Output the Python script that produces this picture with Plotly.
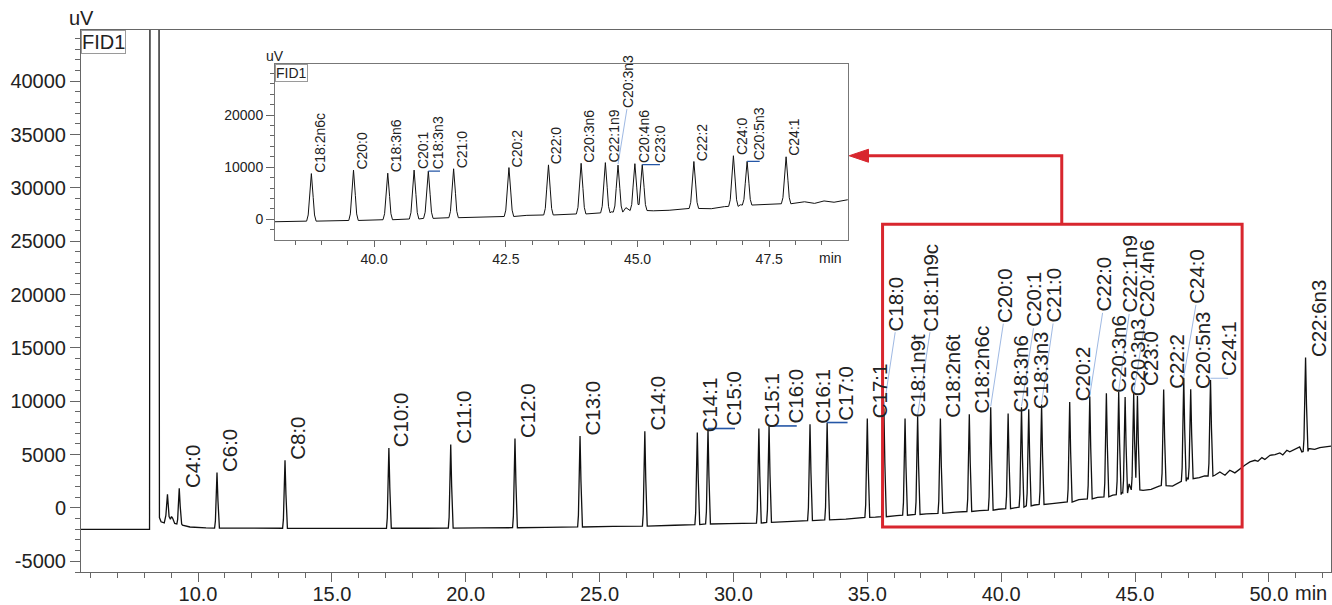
import plotly.graph_objects as go

# ---------------- data ----------------
peak_names = ["C4:0", "C6:0", "C8:0", "C10:0", "C11:0", "C12:0", "C13:0", "C14:0",
              "C14:1", "C15:0", "C15:1", "C16:0", "C16:1", "C17:0", "C17:1", "C18:0",
              "C18:1n9t", "C18:1n9c", "C18:2n6t", "C18:2n6c", "C20:0", "C18:3n6", "C20:1",
              "C18:3n3", "C21:0", "C20:2", "C22:0", "C20:3n6", "C22:1n9", "C20:3n3",
              "C20:4n6", "C23:0", "C22:2", "C24:0", "C20:5n3", "C24:1", "C22:6n3"]
peak_times = [9.30, 10.71, 13.25, 17.13, 19.44, 21.84, 24.27, 26.69,
              28.65, 29.05, 30.95, 31.33, 32.86, 33.50, 35.00, 35.62,
              36.41, 36.88, 37.73, 38.81, 39.61, 40.26, 40.76,
              41.03, 41.51, 42.56, 43.31, 43.93, 44.39, 44.63,
              44.95, 45.09, 46.07, 46.82, 47.08, 47.82, 51.37]
peak_heights = [1850, 3320, 4470, 5630, 5950, 6510, 6750, 7200,
                7070, 7450, 7450, 7690, 7850, 8010, 8390, 9350,
                8390, 8600, 8390, 8780, 9440, 8860, 9450,
                9250, 9700, 9930, 10450, 10750, 10880, 10400,
                10680, 10500, 11100, 12200, 11120, 12000, 14100]
peak_bases = [-1500, -1880, -1900, -1900, -1890, -1850, -1780, -1700,
              -1560, -1500, -1420, -1350, -1180, -1120, -880, -820,
              -680, -610, -500, -330, -200, -60, 80,
              200, 330, 560, 850, 1050, 1250, 1400,
              1700, 1700, 2100, 2500, 2750, 3000, 5300]

# baseline / solvent / noise points between the labelled peaks
baseline_times = [5.63, 7.0, 8.19, 8.21, 8.54, 8.56, 8.62, 8.74, 8.80, 8.86, 8.92, 8.97,
                  9.01, 9.05, 9.13, 9.42, 9.70, 10.3, 11.5, 14.5, 16.0, 18.5, 20.5, 23.0,
                  25.5, 27.8, 29.8, 30.4, 32.2, 34.2, 35.3, 36.1, 37.2, 38.3, 39.2, 39.9,
                  40.5, 41.25, 41.9, 42.2, 42.9, 43.6, 44.17, 44.5, 44.78, 45.3, 45.6, 45.9,
                  46.4, 46.65, 46.95, 47.4, 47.6, 47.98, 48.17, 48.36, 48.54, 48.73, 48.92,
                  49.10, 49.29, 49.48, 49.59, 49.74, 49.85, 50.04, 50.23, 50.41, 50.52,
                  50.67, 50.78, 51.04, 51.15, 51.23, 51.49, 51.71, 51.90, 52.08, 52.32]
baseline_values = [-2000, -2010, -2000, 60000, 60000, -900, -1300, -1400, -700, 1290, -800, -1050,
                   -800, -950, -1450, -1600, -1780, -1860, -1890, -1920, -1920, -1900, -1870, -1820,
                   -1730, -1620, -1470, -1420, -1250, -1050, -860, -720, -560, -380, -240, -120,
                   20, 280, 400, 480, 780, 1000, 1200, 1450, 2250, 1650, 1750, 2050,
                   2050, 2450, 2800, 2850, 3000, 3070, 3380, 3070, 3540, 3290, 3700,
                   4000, 4320, 4470, 4380, 4720, 4540, 4940, 5000, 5160, 4970,
                   5410, 5260, 5570, 5720, 5260, 5570, 5490, 5660, 5720, 5790]

main_x_ticks = [10, 15, 20, 25, 30, 35, 40, 45, 50]
main_x_ticktext = ["10.0", "15.0", "20.0", "25.0", "30.0", "35.0", "40.0", "45.0", "50.0"]
main_y_ticks = [-5000, 0, 5000, 10000, 15000, 20000, 25000, 30000, 35000, 40000]
main_y_ticktext = ["-5000", "0", "5000", "10000", "15000", "20000", "25000", "30000", "35000", "40000"]
inset_x_ticks = [40, 42.5, 45, 47.5]
inset_x_ticktext = ["40.0", "42.5", "45.0", "47.5"]
inset_y_ticks = [0, 10000, 20000]
inset_y_ticktext = ["0", "10000", "20000"]

# highlighted window of the main chart (min, uV)
window_x = [35.57, 49.0]
window_y = [-1780, 26600]

# ---------------- styles / layout ----------------
FONT = "Liberation Sans, Arial, sans-serif"
TXT = "#222222"
AXC = "#666666"
RED = "#d8262e"
LEAD = "#9fb9e3"
DARKBLUE = "#2456a6"

SHAPE_DT = [-0.09, -0.06, -0.035, 0.0, 0.035, 0.06, 0.09]
SHAPE_FRAC = [0, 0.13, 0.5, 1, 0.5, 0.13, 0]

# label placement (pixel offsets from the apex): dx, dy, connector kind, connector length
main_default = (12.5, 1.5, None, 0)
main_layout = {
    "C15:0": (26, 3.3, "h", 27), "C16:0": (26, 3, "h", 27.7), "C17:0": (17.7, 3, "h", 20.4),
    "C18:0": (11.8, 78, "lead", 0), "C18:1n9c": (12.8, 86, "lead", 0),
    "C20:0": (13.1, 85.6, "lead", 0), "C20:1": (12.5, 81, "lead", 0),
    "C21:0": (12, 83, "lead", 0), "C22:0": (13.3, 85.6, "lead", 0),
    "C22:1n9": (11, 80, "lead", 0), "C20:4n6": (12.4, 78, "lead", 0),
    "C23:0": (13, 11, None, 0), "C24:0": (12.7, 75, "lead", 0),
    "C24:1": (18, 5, "hl", 17.6),
}
inset_default = (8.4, 1.5, None, 0)
inset_layout = {
    "C18:3n3": (10, 2.7, "h", 11.7), "C20:3n3": (9.4, 58, "lead", 0),
    "C23:0": (17.7, 2.7, "h", 17.7), "C20:5n3": (12, 1.7, "h", 12.6),
}

# ---------------- build trace ----------------
pts = []
n = len(peak_times)
for i in range(n):
    t, h, b = peak_times[i], peak_heights[i], peak_bases[i]
    lo = (peak_times[i - 1] + t) / 2 if i > 0 else -1e9
    hi = (t + peak_times[i + 1]) / 2 if i < n - 1 else 1e9
    for dt, f in zip(SHAPE_DT, SHAPE_FRAC):
        tt = t + dt
        if lo < tt < hi:
            pts.append((tt, b + f * (h - b)))
for t, v in zip(baseline_times, baseline_values):
    if all(abs(t - p) > 0.095 for p in peak_times):
        pts.append((t, v))
pts.sort()
xs = [p[0] for p in pts]
ys = [p[1] for p in pts]

fig = go.Figure()
fig.add_trace(go.Scatter(x=xs, y=ys, mode="lines", line=dict(color="#111111", width=1.3),
                         xaxis="x", yaxis="y", hoverinfo="skip", showlegend=False))
fig.add_trace(go.Scatter(x=xs, y=ys, mode="lines", line=dict(color="#111111", width=1.0),
                         xaxis="x2", yaxis="y2", hoverinfo="skip", showlegend=False))

annotations = []
shapes = []


def add_labels(xref, yref, fsize, default, layout_map, tmin, tmax, lw_lead, lw_h):
    for name, t, h in zip(peak_names, peak_times, peak_heights):
        if not (tmin < t < tmax):
            continue
        dx, dy, kind, ln = layout_map.get(name, default)
        annotations.append(dict(x=t, y=h, xref=xref, yref=yref, text=name, textangle=-90,
                                showarrow=False, xanchor="center", yanchor="bottom",
                                xshift=dx, yshift=dy - 3,
                                font=dict(size=fsize, color=TXT, family=FONT)))
        if kind == "lead":
            shapes.append(dict(type="line", xref=xref, yref=yref, xsizemode="pixel",
                               ysizemode="pixel", xanchor=t, yanchor=h,
                               x0=0, y0=1, x1=dx - 0.5, y1=dy - 2,
                               line=dict(color=LEAD, width=lw_lead)))
        elif kind in ("h", "hl"):
            shapes.append(dict(type="line", xref=xref, yref=yref, xsizemode="pixel",
                               ysizemode="pixel", xanchor=t, yanchor=h,
                               x0=0, y0=0 if kind == "h" else 1.7, x1=ln, y1=0 if kind == "h" else 1.7,
                               line=dict(color=DARKBLUE if kind == "h" else LEAD,
                                         width=lw_h if kind == "h" else lw_lead)))


add_labels("x", "y", 20.5, main_default, main_layout, 5.63, 52.32, 1, 1.6)
add_labels("x2", "y2", 14, inset_default, inset_layout, 38.12, 48.99, 1, 1.4)

# titles / boxes
annotations += [
    dict(x=0, y=1, xref="x domain", yref="y domain", text="uV", showarrow=False,
         xanchor="center", yanchor="bottom", yshift=-1, font=dict(size=20, color=TXT, family=FONT)),
    dict(x=0, y=1, xref="x domain", yref="y domain", text="FID1", showarrow=False,
         xanchor="left", yanchor="top", bordercolor="#9a9a9a", borderwidth=1, borderpad=0,
         bgcolor="white", font=dict(size=20, color=TXT, family=FONT)),
    dict(x=1, y=0, xref="x domain", yref="y domain", text="min", showarrow=False,
         xanchor="right", yanchor="top", yshift=-10, xshift=-4, borderwidth=0, borderpad=0,
         font=dict(size=20, color=TXT, family=FONT)),
    dict(x=0, y=1, xref="x2 domain", yref="y2 domain", text="uV", showarrow=False,
         xanchor="center", yanchor="bottom", yshift=-2, font=dict(size=14, color=TXT, family=FONT)),
    dict(x=0, y=1, xref="x2 domain", yref="y2 domain", text="FID1", showarrow=False,
         xanchor="left", yanchor="top", bordercolor="#9a9a9a", borderwidth=1, borderpad=0,
         bgcolor="white", font=dict(size=14, color=TXT, family=FONT)),
    dict(x=1, y=0, xref="x2 domain", yref="y2 domain", text="min", showarrow=False,
         xanchor="right", yanchor="top", yshift=-8, xshift=-4,
         font=dict(size=14, color=TXT, family=FONT)),
]

# red highlight window and arrow
shapes += [
    dict(type="rect", xref="x", yref="y", x0=window_x[0], x1=window_x[1],
         y0=window_y[0], y1=window_y[1], line=dict(color=RED, width=3)),
    dict(type="path", xref="paper", yref="paper",
         path="M 0.7846,0.6419 L 0.7846,0.768 L 0.6286,0.768",
         line=dict(color=RED, width=3)),
    dict(type="path", xref="paper", yref="paper",
         path="M 0.6146,0.768 L 0.6300,0.7800 L 0.6300,0.7560 Z",
         fillcolor=RED, line=dict(color=RED, width=1)),
]

fig.update_layout(
    width=1332, height=605,
    margin=dict(l=81, r=1, t=30, b=33, autoexpand=False),
    paper_bgcolor="white", plot_bgcolor="white",
    font=dict(family=FONT, color=TXT),
    showlegend=False,
    xaxis=dict(domain=[0, 1], anchor="y", range=[5.63, 52.32], showline=True, linecolor=AXC,
               linewidth=1, mirror=True, ticks="outside", ticklen=9, tickcolor=AXC,
               tickvals=main_x_ticks, ticktext=main_x_ticktext, tickfont=dict(size=20, color=TXT),
               ticklabelstandoff=-5, automargin=False, showgrid=False, zeroline=False,
               minor=dict(ticks="outside", ticklen=5, dtick=1, tick0=0, tickcolor=AXC, showgrid=False)),
    yaxis=dict(domain=[0, 1], anchor="x", range=[-6000, 44800], showline=True, linecolor=AXC,
               linewidth=1, mirror=True, ticks="outside", ticklen=10, tickcolor=AXC,
               tickvals=main_y_ticks, ticktext=main_y_ticktext, tickfont=dict(size=20, color=TXT),
               automargin=False, showgrid=False, zeroline=False,
               minor=dict(ticks="outside", ticklen=5, dtick=1000, tick0=0, tickcolor=AXC, showgrid=False)),
    xaxis2=dict(domain=[0.1552, 0.6134], anchor="y2", range=[38.12, 48.99], showline=True,
                linecolor="#777777", linewidth=1, mirror=True, ticks="outside", ticklen=6,
                tickcolor=AXC, tickvals=inset_x_ticks, ticktext=inset_x_ticktext,
                tickfont=dict(size=14, color=TXT), automargin=False, showgrid=False, zeroline=False,
                minor=dict(ticks="outside", ticklen=4, dtick=0.5, tick0=0, tickcolor=AXC, showgrid=False)),
    yaxis2=dict(domain=[0.6123, 0.9367], anchor="x2", range=[-3970, 29720], showline=True,
                linecolor="#777777", linewidth=1, mirror=True, ticks="outside", ticklen=8,
                tickcolor=AXC, tickvals=inset_y_ticks, ticktext=inset_y_ticktext,
                tickfont=dict(size=14, color=TXT), automargin=False, showgrid=False, zeroline=False,
                minor=dict(ticks="outside", ticklen=4, dtick=2000, tick0=0, tickcolor=AXC, showgrid=False)),
    annotations=annotations,
    shapes=shapes,
)

fig.write_html("out.html")
